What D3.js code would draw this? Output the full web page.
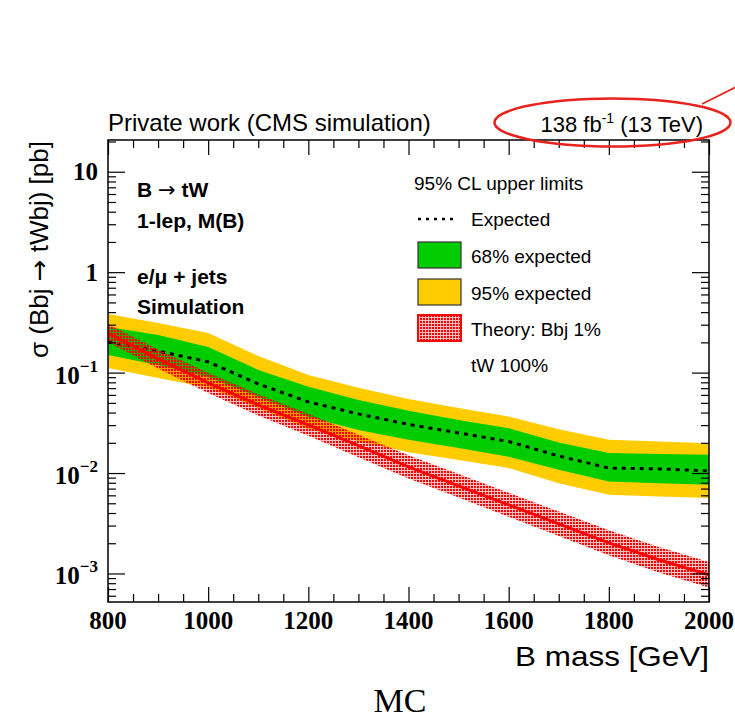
<!DOCTYPE html>
<html>
<head>
<meta charset="utf-8">
<script src="https://cdn.jsdelivr.net/npm/d3@7/dist/d3.min.js"></script>
<style>
  html, body { margin: 0; padding: 0; background: #ffffff; }
  svg { display: block; }
  .sans { font-family: "Liberation Sans", Arial, Helvetica, sans-serif; }
  .serifb { font-family: "Liberation Serif", "Times New Roman", serif; font-weight: bold; }
  .arrow { font-family: "DejaVu Sans", sans-serif; font-weight: normal; }
</style>
</head>
<body>
<svg id="chart" width="735" height="722"></svg>
<script>
// B mass points [GeV]
const masses = [800, 900, 1000, 1100, 1200, 1300, 1400, 1500, 1600, 1700, 1800, 1900, 2000];

// Expected 95% CL upper limit on sigma(Bbj -> tWbj) [pb]
const expected   = [0.202, 0.164, 0.128, 0.0772, 0.0511, 0.0388, 0.0305, 0.0251, 0.0206, 0.0148, 0.0112, 0.0110, 0.0105];
// 68% expected band
const band68Up   = [0.285, 0.237, 0.180, 0.1064, 0.0721, 0.0535, 0.0416, 0.0338, 0.0280, 0.0201, 0.0158, 0.0155, 0.0152];
const band68Down = [0.150, 0.119, 0.0906, 0.0573, 0.0362, 0.0269, 0.0214, 0.0178, 0.0145, 0.0108, 0.00823, 0.00793, 0.00763];
// 95% expected band
const band95Up   = [0.384, 0.312, 0.248, 0.1466, 0.0949, 0.0705, 0.0547, 0.0445, 0.0365, 0.0273, 0.0214, 0.0206, 0.0198];
const band95Down = [0.111, 0.0886, 0.0705, 0.0445, 0.0275, 0.0209, 0.0161, 0.0135, 0.0112, 0.00793, 0.00607, 0.00584, 0.00563];

// Theory cross section (Bbj 1%, tW 100%) with its uncertainty band
const theory     = [0.248, 0.137, 0.0790, 0.0477, 0.0302, 0.0187, 0.0115, 0.00746, 0.00483, 0.00312, 0.00202, 0.00137, 0.000971];
const theoryUp   = [0.305, 0.170, 0.0995, 0.0608, 0.0389, 0.0241, 0.0150, 0.00977, 0.00637, 0.00413, 0.00269, 0.00183, 0.00130];
const theoryDown = [0.2016, 0.110, 0.0627, 0.0374, 0.0235, 0.0144, 0.00884, 0.00570, 0.00367, 0.00236, 0.00152, 0.00102, 0.000723];

// Axis ticks and labels
const xMajorTicks = [800, 1000, 1200, 1400, 1600, 1800, 2000];
const xMinorStep = 50;
const yDecades = [1e-3, 1e-2, 1e-1, 1, 10];
const yTickBase = ["10", "10", "10", "1", "10"];
const yTickExp  = ["\u22123", "\u22122", "\u22121", "", ""];

const xTitle = "B mass [GeV]";
const yTitleParts = ["\u03C3 (Bbj ", "\u2192", " tWbj) [pb]"];
const legendHeader = "95% CL upper limits";
const legendLabels = ["Expected", "68% expected", "95% expected", "Theory: Bbj 1%", "tW 100%"];
const annotations = [["B ", "\u2192", " tW"], ["1-lep, M(B)"], ["e/\u03BC + jets"], ["Simulation"]];

const svg = d3.select("#chart");
const frame = { l: 108, r: 709, t: 140, b: 602 };

const x = d3.scaleLinear().domain([800, 2000]).range([frame.l, frame.r]);
const y = d3.scaleLog().domain([5.2e-4, 20.7]).range([frame.b, frame.t]);

const rows = masses.map((m, i) => ({
  m, exp: expected[i],
  g1: band68Down[i], g2: band68Up[i],
  y1: band95Down[i], y2: band95Up[i],
  th: theory[i], thUp: theoryUp[i], thDn: theoryDown[i]
}));

// Fill pattern for the theory uncertainty band: red squares over a light red wash
const defs = svg.append("defs");
const pat = defs.append("pattern")
  .attr("id", "theoryHatch").attr("patternUnits", "userSpaceOnUse")
  .attr("width", 3).attr("height", 3);
pat.append("rect").attr("x", 0).attr("y", 0).attr("width", 3).attr("height", 3)
  .attr("fill", "#ff0000").attr("fill-opacity", 0.25);
pat.append("rect").attr("x", 0).attr("y", 0).attr("width", 2).attr("height", 2).attr("fill", "#ff0000");

defs.append("clipPath").attr("id", "plotClip")
  .append("rect").attr("x", frame.l).attr("y", frame.t)
  .attr("width", frame.r - frame.l).attr("height", frame.b - frame.t);

const plot = svg.append("g").attr("clip-path", "url(#plotClip)");

const area = (lo, hi) => d3.area().x(d => x(d.m)).y0(d => y(d[lo])).y1(d => y(d[hi]));

plot.append("path").datum(rows).attr("d", area("y1", "y2")).attr("fill", "#ffcc00");
plot.append("path").datum(rows).attr("d", area("g1", "g2")).attr("fill", "#00cc00");

plot.append("path").datum(rows)
  .attr("d", d3.line().x(d => x(d.m)).y(d => y(d.exp)))
  .attr("fill", "none").attr("stroke", "#000").attr("stroke-width", 3)
  .attr("stroke-dasharray", "4,5");

plot.append("path").datum(rows).attr("d", area("thDn", "thUp")).attr("fill", "url(#theoryHatch)");

plot.append("path").datum(rows)
  .attr("d", d3.line().x(d => x(d.m)).y(d => y(d.th)))
  .attr("fill", "none").attr("stroke", "#ff0000").attr("stroke-width", 3);

// Axes: ticks point inwards on all four sides
const xMinor = d3.range(800, 2000 + 1, xMinorStep).filter(v => !xMajorTicks.includes(v));
const yMinor = [];
[1e-4, 1e-3, 1e-2, 1e-1, 1, 10].forEach(dec => {
  for (let k = 2; k <= 9; k++) {
    const v = k * dec;
    if (v >= y.domain()[0] && v <= y.domain()[1]) yMinor.push(v);
  }
});

function tickAxis(axisFn, scale, values, size, transform) {
  const g = svg.append("g").attr("transform", transform)
    .call(axisFn(scale).tickValues(values).tickSize(size).tickSizeOuter(0).tickFormat(""));
  g.select(".domain").remove();
  g.selectAll("line").attr("stroke", "#000").attr("stroke-width", 1.2);
  return g;
}

tickAxis(d3.axisBottom, x, xMajorTicks, -15, `translate(0,${frame.b})`);
tickAxis(d3.axisBottom, x, xMinor, -8, `translate(0,${frame.b})`);
tickAxis(d3.axisTop, x, xMajorTicks, -15, `translate(0,${frame.t})`);
tickAxis(d3.axisTop, x, xMinor, -8, `translate(0,${frame.t})`);
tickAxis(d3.axisLeft, y, yDecades, -17, `translate(${frame.l},0)`);
tickAxis(d3.axisLeft, y, yMinor, -8, `translate(${frame.l},0)`);
tickAxis(d3.axisRight, y, yDecades, -17, `translate(${frame.r},0)`);
tickAxis(d3.axisRight, y, yMinor, -8, `translate(${frame.r},0)`);

svg.append("rect")
  .attr("x", frame.l).attr("y", frame.t)
  .attr("width", frame.r - frame.l).attr("height", frame.b - frame.t)
  .attr("fill", "none").attr("stroke", "#000").attr("stroke-width", 1.5);

// Tick labels
svg.selectAll(".xlab").data(xMajorTicks).join("text")
  .attr("class", "xlab serifb")
  .attr("x", d => x(d)).attr("y", 629)
  .attr("text-anchor", "middle").attr("font-size", 25)
  .text(d => d);

const ylab = svg.selectAll(".ylab").data(yDecades).join("text")
  .attr("class", "ylab serifb")
  .attr("x", 98)
  .attr("y", (d, i) => y(d) + (yTickExp[i] ? 11 : 8.5))
  .attr("text-anchor", "end").attr("font-size", 25);
ylab.append("tspan").text((d, i) => yTickBase[i]);
ylab.filter((d, i) => yTickExp[i] !== "")
  .append("tspan").attr("dy", -12).attr("font-size", 17)
  .text(d => yTickExp[yDecades.indexOf(d)]);

// Axis titles
svg.append("text").attr("class", "sans")
  .attr("x", frame.r).attr("y", 666)
  .attr("text-anchor", "end").attr("font-size", 28)
  .attr("textLength", 194).attr("lengthAdjust", "spacingAndGlyphs")
  .text(xTitle);

const yt = svg.append("text").attr("class", "sans")
  .attr("transform", `translate(48,${frame.t + 1}) rotate(-90)`)
  .attr("text-anchor", "end").attr("font-size", 26);
yTitleParts.forEach((p, i) => {
  yt.append("tspan").attr("class", i === 1 ? "arrow" : null).text(p);
});

// Header line above the frame
svg.append("text").attr("class", "sans")
  .attr("x", 108).attr("y", 131).attr("font-size", 24)
  .text("Private work (CMS simulation)");

const lumi = svg.append("text").attr("class", "sans")
  .attr("x", 703).attr("y", 132).attr("text-anchor", "end").attr("font-size", 22);
lumi.append("tspan").text("138 fb");
lumi.append("tspan").attr("dy", -9).attr("font-size", 14).text("-1");
lumi.append("tspan").attr("dy", 9).text(" (13 TeV)");

// Red highlight ellipse around the luminosity label
svg.append("ellipse")
  .attr("cx", 612.5).attr("cy", 122.5).attr("rx", 118).attr("ry", 24)
  .attr("fill", "none").attr("stroke", "#e8221c").attr("stroke-width", 2.5);
svg.append("line")
  .attr("x1", 702).attr("y1", 104).attr("x2", 740).attr("y2", 85)
  .attr("stroke", "#e8221c").attr("stroke-width", 1.8);

// Channel annotations
const annY = [197, 228, 284, 314];
const ann = svg.selectAll(".ann").data(annotations).join("text")
  .attr("class", "ann sans")
  .attr("x", 137).attr("y", (d, i) => annY[i])
  .attr("font-size", 21).attr("font-weight", "bold");
ann.each(function (parts) {
  const t = d3.select(this);
  parts.forEach(p => {
    t.append("tspan").attr("class", p === "\u2192" ? "arrow" : null).text(p);
  });
});

// Legend
const lg = svg.append("g").attr("class", "sans");
const lgFont = 19;
lg.append("text").attr("x", 414).attr("y", 190).attr("font-size", lgFont).text(legendHeader);
const lgY = [226, 263, 300, 336, 372];
lg.selectAll(".lgt").data(legendLabels).join("text")
  .attr("class", "lgt").attr("x", 471).attr("y", (d, i) => lgY[i])
  .attr("font-size", lgFont).text(d => d);

lg.append("line").attr("x1", 418).attr("x2", 458).attr("y1", 219).attr("y2", 219)
  .attr("stroke", "#000").attr("stroke-width", 2.5).attr("stroke-dasharray", "3,5");
lg.append("rect").attr("x", 418).attr("y", 242).attr("width", 43).attr("height", 26)
  .attr("fill", "#00cc00").attr("stroke", "#333").attr("stroke-width", 1.2);
lg.append("rect").attr("x", 418).attr("y", 279).attr("width", 43).attr("height", 26)
  .attr("fill", "#ffcc00").attr("stroke", "#333").attr("stroke-width", 1.2);
lg.append("rect").attr("x", 418).attr("y", 315).attr("width", 43).attr("height", 26)
  .attr("fill", "url(#theoryHatch)").attr("stroke", "#ff0000").attr("stroke-width", 2);

// Caption below the figure
svg.append("text")
  .attr("x", 400).attr("y", 712).attr("text-anchor", "middle")
  .attr("font-family", "'Liberation Serif', 'DejaVu Serif', serif")
  .attr("font-size", 34).text("MC");
</script>
</body>
</html>
